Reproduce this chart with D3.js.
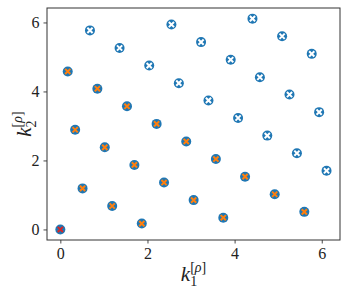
<!DOCTYPE html>
<html>
<head>
<meta charset="utf-8">
<script src="https://cdn.jsdelivr.net/npm/d3@7"></script>
<style>
body { margin: 0; background: #fff; }
.lbl { font-family: 'Liberation Serif', serif; fill: #222; }
</style>
</head>
<body>
<script>
//sizes
var svg_width = 349;
var svg_height = 295;
var plot = {left: 47, top: 8, right: 340, bottom: 240};

//data
var inner_x = [0.51, 1.02, 1.53, 3.06, 3.57, 5.60, 0.34, 0.85, 1.87, 2.38, 2.89, 4.92, 0.17, 1.19, 1.70, 2.21, 3.74, 4.24];
var inner_y = [1.19, 2.38, 3.57, 0.85, 2.04, 0.51, 2.89, 4.08, 0.17, 1.36, 2.55, 1.02, 4.58, 0.68, 1.87, 3.06, 0.34, 1.53];
var outer_x = [2.04, 2.55, 4.08, 4.58, 5.09, 6.11, 1.36, 3.40, 3.91, 4.41, 5.43, 5.94, 0.68, 2.72, 3.23, 4.75, 5.26, 5.77];
var outer_y = [4.75, 5.94, 3.23, 4.41, 5.60, 1.70, 5.26, 3.74, 4.92, 6.11, 2.21, 3.40, 5.77, 4.24, 5.43, 2.72, 3.91, 5.09];
var origin_x = [0];
var origin_y = [0];
var x_ticks = [0, 2, 4, 6];
var y_ticks = [0, 2, 4, 6];
var x_domain = [-0.306, 6.419];
var y_domain = [-0.306, 6.419];

var svg = d3.select('body').append('svg')
    .attr('width', svg_width)
    .attr('height', svg_height);

var scale_x = d3.scaleLinear().domain(x_domain).range([plot.left, plot.right]);
var scale_y = d3.scaleLinear().domain(y_domain).range([plot.bottom, plot.top]);

//axes
var axis_x = d3.axisBottom(scale_x).tickValues(x_ticks).tickSize(3.5).tickPadding(4).tickFormat(d3.format('d'));
var gx = svg.append('g').attr('transform', 'translate(0,' + plot.bottom + ')').call(axis_x);
var axis_y = d3.axisLeft(scale_y).tickValues(y_ticks).tickSize(3.5).tickPadding(4).tickFormat(d3.format('d'));
var gy = svg.append('g').attr('transform', 'translate(' + plot.left + ',0)').call(axis_y);
svg.selectAll('.domain').remove();
svg.selectAll('.tick line').attr('stroke', '#333').attr('stroke-width', 0.9);
gx.attr('font-family', 'Liberation Serif').attr('font-size', 16);
gy.attr('font-family', 'Liberation Serif').attr('font-size', 16);
svg.selectAll('.tick text').attr('fill', '#222');

//frame
svg.append('rect')
    .attr('x', plot.left).attr('y', plot.top)
    .attr('width', plot.right - plot.left).attr('height', plot.bottom - plot.top)
    .attr('fill', 'none').attr('stroke', '#333').attr('stroke-width', 1);

//points
function draw(xs, ys, cross_colour) {
    var pts = xs.map(function(x, i) { return [x, ys[i]]; });
    var g = svg.append('g').selectAll('g').data(pts).enter().append('g')
        .attr('transform', function(d) { return 'translate(' + scale_x(d[0]) + ',' + scale_y(d[1]) + ')'; });
    g.append('circle').attr('r', 5).attr('fill', '#1f77b4');
    var s = 2.6;
    g.append('path')
        .attr('d', 'M' + (-s) + ',' + (-s) + 'L' + s + ',' + s + 'M' + (-s) + ',' + s + 'L' + s + ',' + (-s))
        .attr('stroke', cross_colour).attr('stroke-width', 2);
}
draw(outer_x, outer_y, '#ffffff');
draw(inner_x, inner_y, '#ff7f0e');
draw(origin_x, origin_y, '#d62728');

//axis labels
function label(t, idx) {
    t.append('tspan').style('font-style', 'italic').text('k');
    t.append('tspan').attr('dy', 5).style('font-size', '14px').text(idx);
    t.append('tspan').attr('dx', -7).attr('dy', -14).style('font-size', '14px').text('[');
    t.append('tspan').style('font-size', '14px').style('font-style', 'italic').text('ρ');
    t.append('tspan').style('font-size', '14px').text(']');
}
var lx = svg.append('text').attr('class', 'lbl')
    .attr('x', (plot.left + plot.right) / 2).attr('y', 281)
    .attr('text-anchor', 'middle').style('font-size', '21px');
label(lx, '1');
var ly = svg.append('text').attr('class', 'lbl')
    .attr('transform', 'translate(31,' + ((plot.top + plot.bottom) / 2) + ') rotate(-90)')
    .attr('text-anchor', 'middle').style('font-size', '21px');
label(ly, '2');
</script>
</body>
</html>
